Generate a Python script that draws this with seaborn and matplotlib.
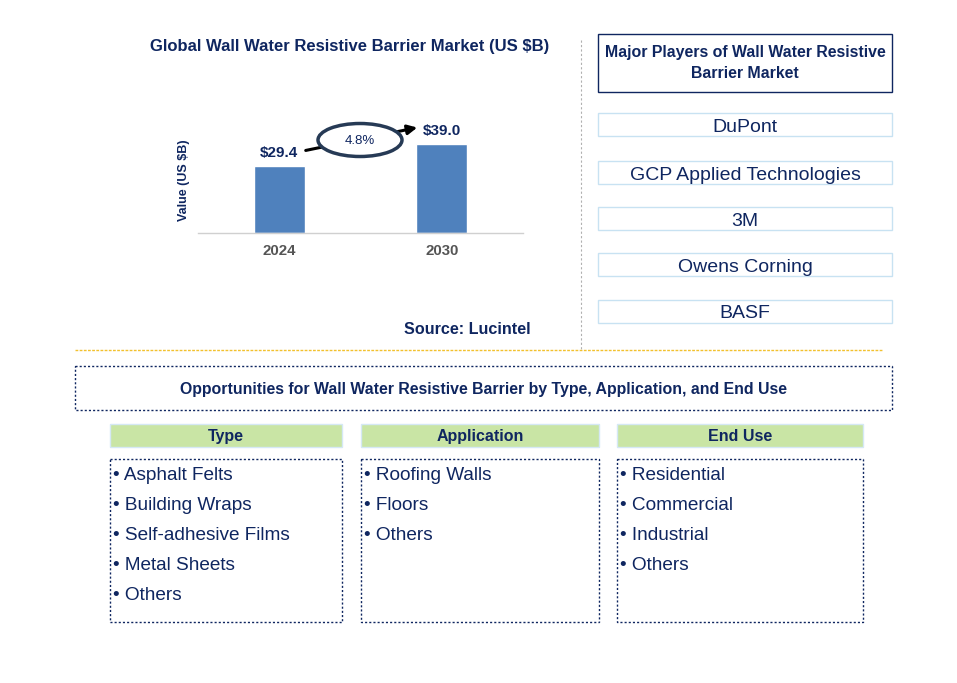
import pandas as pd
import matplotlib
matplotlib.use("Agg")
import matplotlib.pyplot as plt
import seaborn as sns
from matplotlib.patches import Rectangle, Ellipse

# chart data
years = ["2024", "2030"]
values = [29.4, 39.0]
cagr = "4.8%"
players = ["DuPont", "GCP Applied Technologies", "3M", "Owens Corning", "BASF"]
types = ["Asphalt Felts", "Building Wraps", "Self-adhesive Films", "Metal Sheets", "Others"]
applications = ["Roofing Walls", "Floors", "Others"]
end_uses = ["Residential", "Commercial", "Industrial", "Others"]

navy = "#0f2660"
bar_color = "#4f81bd"

sns.set_theme(style="white")
plt.rcParams["font.family"] = ["Liberation Sans", "DejaVu Sans"]

W, H = 957, 683
fig = plt.figure(figsize=(W / 100, H / 100), dpi=100)

# bar chart
ax = fig.add_axes([198 / W, (H - 233) / H, 325 / W, 133 / H])
ax.patch.set_alpha(0)
df = pd.DataFrame({"year": years, "value": values})
sns.barplot(data=df, x="year", y="value", color=bar_color, width=0.315,
            saturation=1, ax=ax)
ax.set_xlim(-0.5, 1.5)
ax.set_ylim(0, 58.3)
ax.set_yticks([])
ax.set_xlabel("")
ax.set_ylabel("")
for s in ["top", "right", "left"]:
    ax.spines[s].set_visible(False)
ax.spines["bottom"].set_color("#d0d0d0")
ax.spines["bottom"].set_linewidth(1)
ax.tick_params(axis="x", length=0, pad=8, labelsize=10.8, labelcolor="#555555")
for lbl in ax.get_xticklabels():
    lbl.set_fontweight("bold")
for i, v in enumerate(values):
    ax.annotate(f"${v:.1f}", (i, v), xytext=(0, 4), textcoords="offset points",
                ha="center", va="bottom", fontsize=11, fontweight="bold", color=navy)

# overlay in pixel coordinates for boxes and text
ov = fig.add_axes([0, 0, 1, 1])
ov.set_xlim(0, W)
ov.set_ylim(H, 0)
ov.axis("off")
ov.patch.set_alpha(0)

ov.text(350, 47, "Global Wall Water Resistive Barrier Market (US $B)", ha="center",
        va="center", fontsize=12, fontweight="bold", color=navy)
ov.text(184, 180, "Value (US $B)", rotation=90, ha="center", va="center",
        fontsize=9, fontweight="bold", color=navy)

# CAGR arrow and ellipse
ov.annotate("", xy=(420, 127), xytext=(303, 151), zorder=2,
            arrowprops=dict(arrowstyle="-|>", color="black", lw=2.2, mutation_scale=14))
ov.add_patch(Ellipse((360, 140), 84, 33, facecolor="white", edgecolor="#263a55",
                     lw=2.5, zorder=4))
ov.text(360, 140, cagr, ha="center", va="center_baseline", fontsize=9.5, color=navy,
        zorder=5)

ov.text(467, 330, "Source: Lucintel", ha="center", va="center", fontsize=11.6,
        fontweight="bold", color=navy)

# separators
ov.plot([581, 581], [40, 350], color="#b0b0b0", lw=0.8, ls=(0, (2, 2)))
ov.plot([75, 882], [350, 350], color="#f2c12e", lw=1, ls=(0, (2, 1)))

# major players
ov.add_patch(Rectangle((598, 34), 294, 58, fill=False, edgecolor=navy, lw=1))
ov.text(745, 63, "Major Players of Wall Water Resistive\nBarrier Market", ha="center",
        va="center", fontsize=11.4, fontweight="bold", color=navy, linespacing=1.5)
player_tops = [113, 161, 207, 253, 300]
for name, top in zip(players, player_tops):
    ov.add_patch(Rectangle((598, top), 294, 23, fill=False, edgecolor="#c8e2f2", lw=1))
    ov.text(745, top + 12, name, ha="center", va="center_baseline", fontsize=14,
            color=navy)

# opportunities
ov.add_patch(Rectangle((75, 366), 817, 44, fill=False, edgecolor=navy, lw=1,
                       ls=(0, (1.5, 1.5))))
ov.text(483, 388, "Opportunities for Wall Water Resistive Barrier by Type, Application, and End Use",
        ha="center", va="center_baseline", fontsize=11.4, fontweight="bold", color=navy)

columns = [("Type", types, 110, 232), ("Application", applications, 361, 238),
           ("End Use", end_uses, 617, 246)]
for title, items, x0, w in columns:
    ov.add_patch(Rectangle((x0, 424), w, 23, facecolor="#c9e5a5", edgecolor="#d5e8f5", lw=1))
    ov.text(x0 + w / 2, 435, title, ha="center", va="center_baseline", fontsize=11.5,
            fontweight="bold", color=navy)
    ov.add_patch(Rectangle((x0, 459), w, 163, fill=False, edgecolor=navy, lw=1,
                           ls=(0, (1.5, 1.5))))
    for k, item in enumerate(items):
        ov.text(x0 + 3, 473 + 30 * k, "\u2022 " + item, ha="left",
                va="center_baseline", fontsize=13.7, color=navy)

fig.savefig("out.png", dpi=100)
